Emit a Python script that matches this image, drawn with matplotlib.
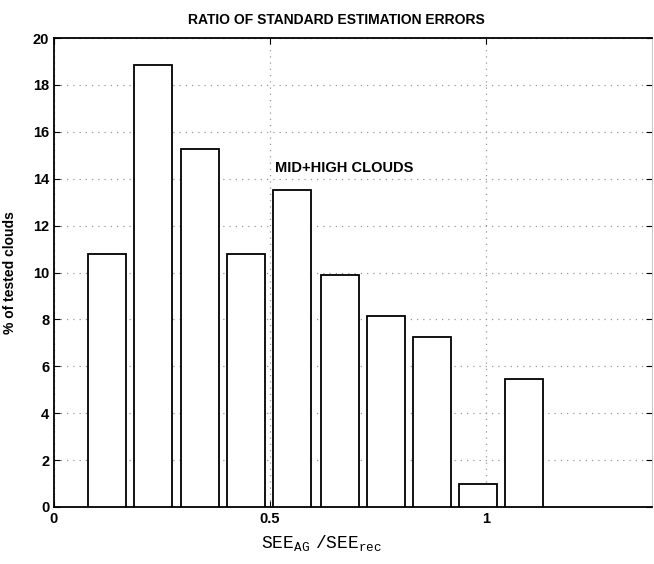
import matplotlib
matplotlib.use("Agg")
import matplotlib.pyplot as plt

# histogram bin centres (SEE_AG / SEE_rec) and % of tested clouds
bin_centres = [0.123, 0.230, 0.338, 0.444, 0.551, 0.662, 0.769, 0.875, 0.981, 1.088]
percent = [10.8, 18.85, 15.25, 10.8, 13.5, 9.9, 8.15, 7.25, 1.0, 5.45]
bar_width = 0.088

plt.rcParams['font.family'] = ['Liberation Sans', 'DejaVu Sans']
plt.rcParams['mathtext.fontset'] = 'custom'
plt.rcParams['mathtext.tt'] = 'Liberation Mono'
plt.rcParams['mathtext.rm'] = 'Liberation Mono'

fig = plt.figure(figsize=(6.54, 5.64), dpi=100)
ax = fig.add_axes([54 / 654, 57 / 564, 598 / 654, 469 / 564])

ax.bar(bin_centres, percent, width=bar_width, facecolor='white',
       edgecolor='black', linewidth=1.3, zorder=3)

ax.set_xlim(0, 1.384)
ax.set_ylim(0, 20)
ax.set_xticks([0, 0.5, 1])
ax.set_xticklabels(['0', '0.5', '1'])
ax.set_yticks(range(0, 21, 2))
ax.tick_params(direction='in', top=True, right=True, length=4, labelsize=10.5, width=0.8)
for lab in ax.get_xticklabels() + ax.get_yticklabels():
    lab.set_fontweight('bold')
ax.grid(True, linestyle=(0, (1, 4)), color='#999999', linewidth=0.9, zorder=0)

for s in ax.spines.values():
    s.set_linewidth(1.3)
ax.spines['right'].set_linewidth(0.6)
ax.spines['right'].set_color('#bbbbbb')

ax.set_title('RATIO OF STANDARD ESTIMATION ERRORS', fontsize=10, fontweight='bold',
             pad=10, x=0.473)
ax.set_ylabel('% of tested clouds', fontsize=10, fontweight='bold')
ax.yaxis.set_label_coords(-0.062, 0.5)
ax.set_xlabel(r'$\mathtt{SEE_{AG}\ /SEE_{rec}}$', fontsize=13)
ax.xaxis.set_label_coords(0.448, -0.056)

ax.text(0.512, 14.45, 'MID+HIGH CLOUDS', fontsize=10.5, fontweight='bold', va='center', ha='left')

fig.savefig('out.png', dpi=100)
